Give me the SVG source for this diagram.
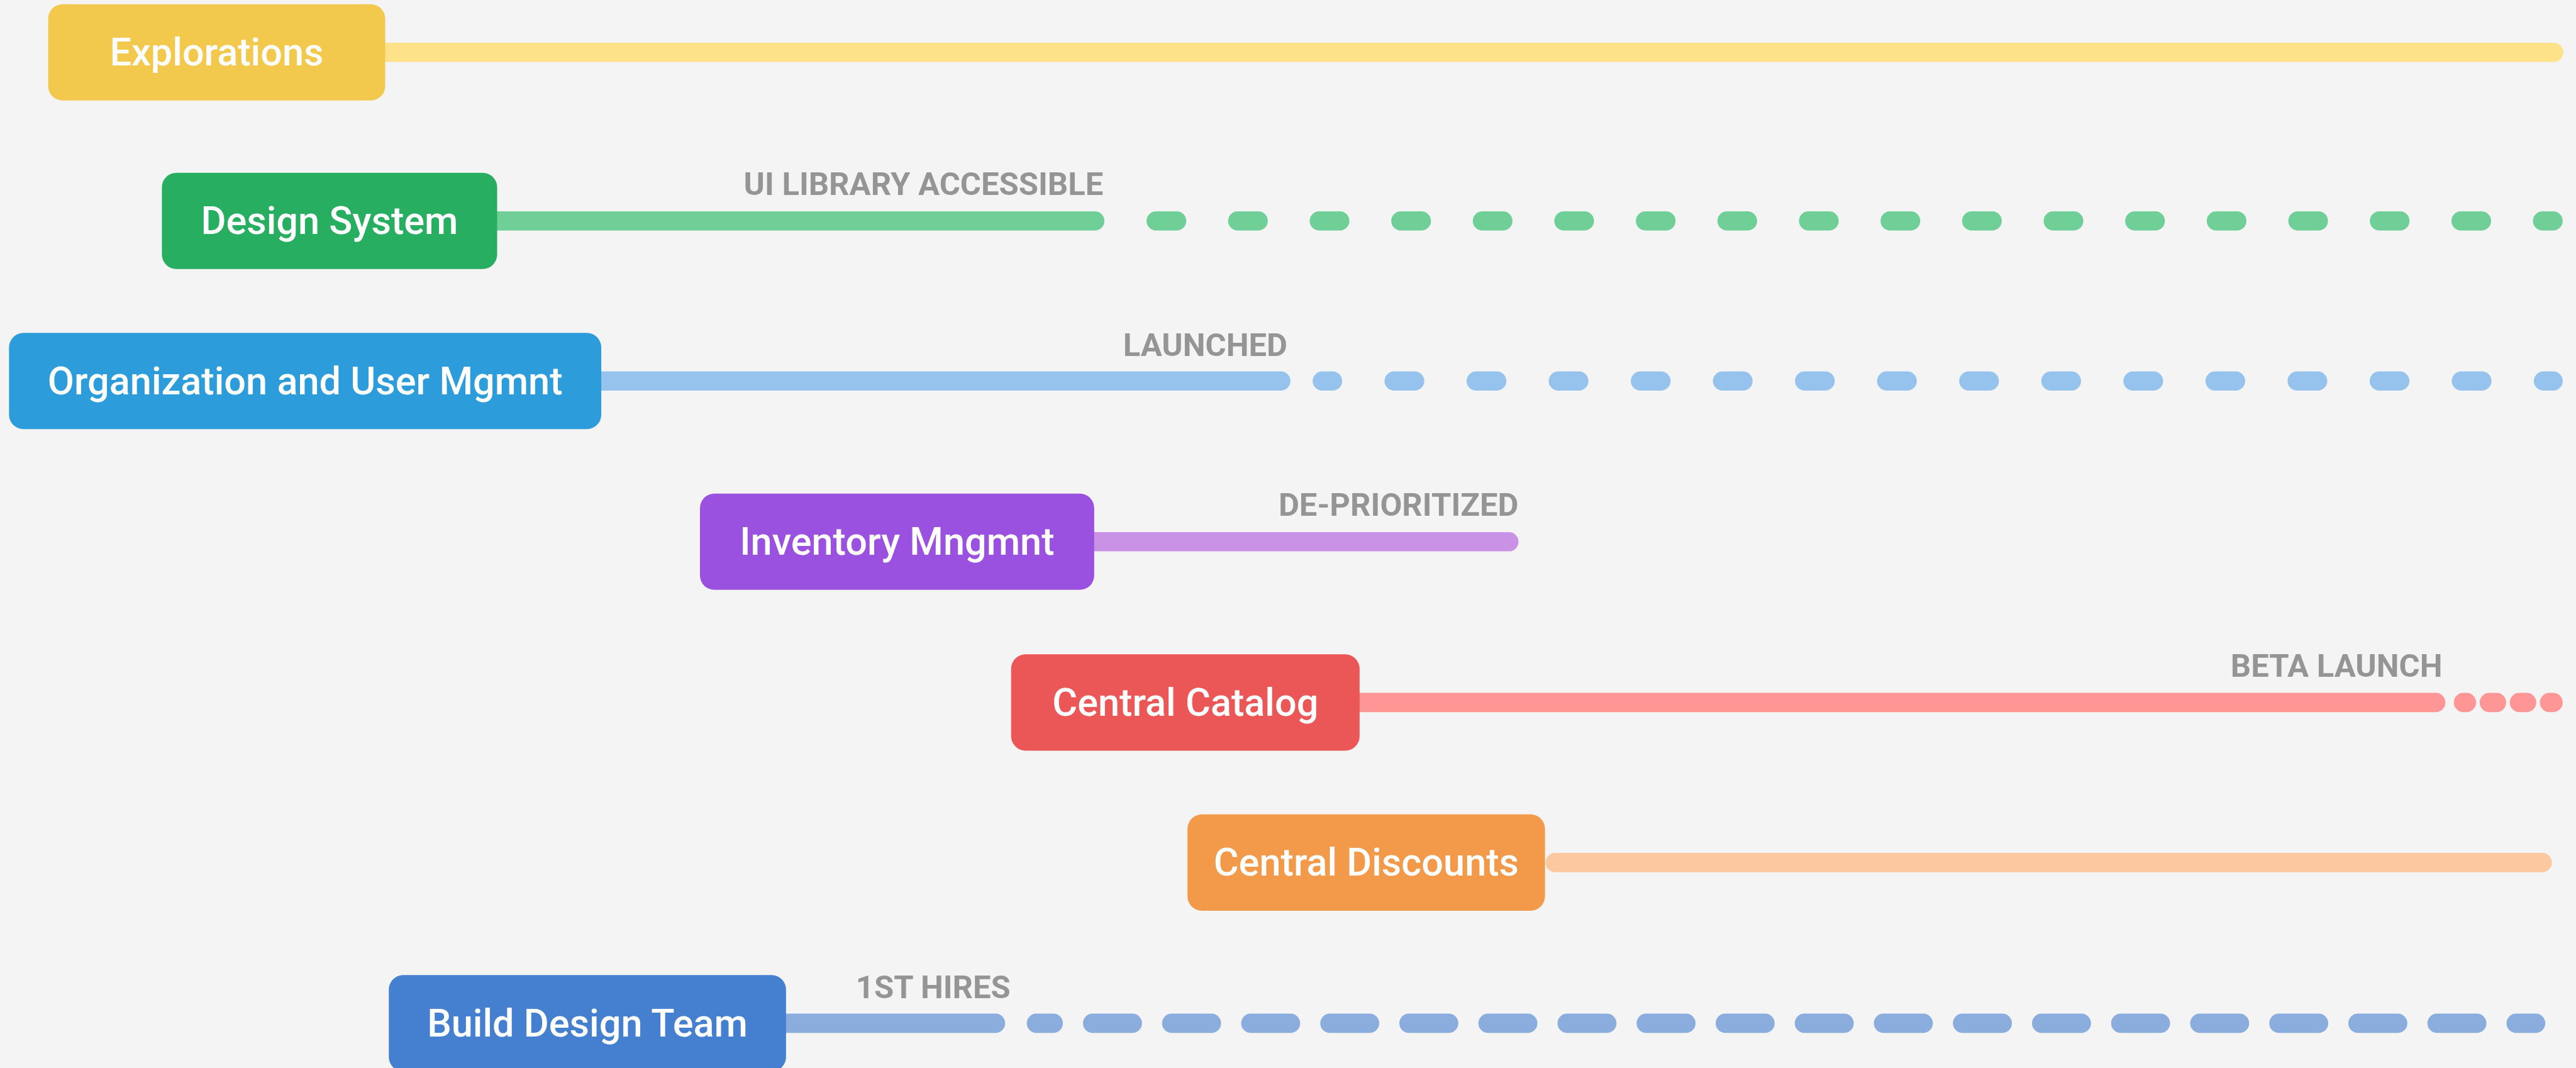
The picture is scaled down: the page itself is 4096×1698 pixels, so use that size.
<svg xmlns="http://www.w3.org/2000/svg" width="4096" height="1698" viewBox="0 0 4096 1698">
<style>
.bg{fill:#f4f4f4}
.node text{font-family:Roboto,"Liberation Sans",sans-serif;font-weight:500;font-size:64px;fill:#ffffff;text-anchor:middle}
.lbl{font-family:Roboto,"Liberation Sans",sans-serif;font-weight:700;font-size:53px;fill:#959595;text-anchor:end}
.ln{fill:none;stroke-width:32;stroke-linecap:round}
</style>
<rect class="bg" x="0" y="0" width="4096" height="1698"/>
<g transform="scale(0.957)">
<g id="connectors">
<path class="ln" stroke="#fde28a" d="M620 87 H4243"/>
<path class="ln" stroke="#6fcf97" d="M800 367 H1819"/>
<path class="ln" stroke="#6fcf97" stroke-dasharray="34 101.5" d="M1921 367 H4242"/>
<path class="ln" stroke="#96c2ee" d="M980 633 H2128"/>
<path class="ln" stroke="#96c2ee" stroke-dasharray="34 102.4" stroke-dashoffset="17" d="M2197 633 H4242"/>
<path class="ln" stroke="#c992e5" d="M1800 900 H2507"/>
<path class="ln" stroke="#ff9696" d="M2240 1167 H4047"/>
<path class="ln" stroke="#ff9696" stroke-dasharray="12 38" stroke-dashoffset="7" d="M4093 1167 H4242"/>
<path class="ln" stroke="#fcc8a0" d="M2584 1433 H4224"/>
<path class="ln" stroke="#8badde" d="M1290 1700 H1654"/>
<path class="ln" stroke="#8badde" stroke-dasharray="66 65.4" stroke-dashoffset="38" d="M1722 1700 H4213"/>
</g>
<g id="labels">
<text class="lbl" x="1833" y="324">UI LIBRARY ACCESSIBLE</text>
<text class="lbl" x="2139" y="591">LAUNCHED</text>
<text class="lbl" x="2523" y="857">DE-PRIORITIZED</text>
<text class="lbl" x="4058" y="1124">BETA LAUNCH</text>
<text class="lbl" x="1679" y="1658">1ST HIRES</text>
</g>
<g id="explorations" class="node"><rect x="80" y="7" width="560" height="160" rx="24" fill="#f2c94c"/><text x="360" y="109">Explorations</text></g>
<g id="design-system" class="node"><rect x="269" y="287" width="557" height="160" rx="24" fill="#27ae60"/><text x="547.5" y="389">Design System</text></g>
<g id="org-user-mgmt" class="node"><rect x="15" y="553" width="984" height="160" rx="24" fill="#2d9cdb"/><text x="507" y="655">Organization and User Mgmnt</text></g>
<g id="inventory-mgmt" class="node"><rect x="1163" y="820" width="655" height="160" rx="24" fill="#9b51e0"/><text x="1490.5" y="922">Inventory Mngmnt</text></g>
<g id="central-catalog" class="node"><rect x="1680" y="1087" width="579" height="160" rx="24" fill="#eb5757"/><text x="1969.5" y="1189">Central Catalog</text></g>
<g id="central-discounts" class="node"><rect x="1973" y="1353" width="594" height="160" rx="24" fill="#f2994a"/><text x="2270" y="1455">Central Discounts</text></g>
<g id="build-design-team" class="node"><rect x="646" y="1620" width="660" height="160" rx="24" fill="#447fd0"/><text x="976" y="1722">Build Design Team</text></g>
</g>
</svg>
